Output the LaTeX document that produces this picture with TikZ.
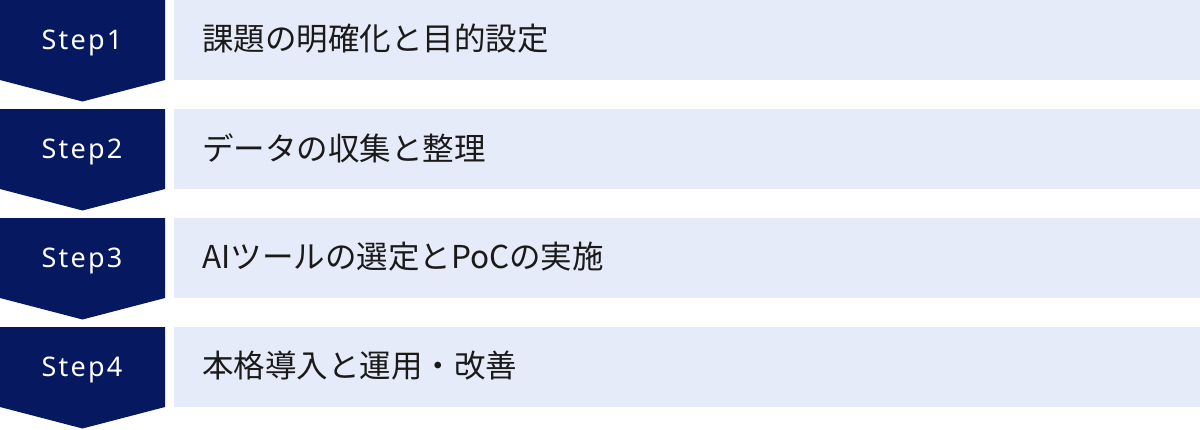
\documentclass[tikz,border=0pt]{standalone}
\usepackage{fontspec}
\setmainfont{Noto Sans}
\newfontfamily\jpfont{Noto Sans CJK JP}
\newfontfamily\stepfont{Noto Sans}
\newcommand{\ls}{\kern2.2pt}
\definecolor{navy}{RGB}{5,24,96}
\definecolor{pale}{RGB}{229,235,248}
\definecolor{ink}{RGB}{26,26,26}
\tikzset{
  chev/.style={fill=navy, draw=none},
  band/.style={fill=pale, draw=none},
  steplabel/.style={text=white, font=\stepfont\fontsize{27}{30}\selectfont, inner sep=0pt},
  tasklabel/.style={text=ink, font=\jpfont\fontsize{31.5}{36}\selectfont, inner sep=0pt, anchor=west}
}
\begin{document}
\begin{tikzpicture}[x=1pt,y=-1pt]
\useasboundingbox (0,0) rectangle (1200,429);
\foreach \i/\s/\t in {0/1/課題の明確化と目的設定, 1/2/データの収集と整理, 2/3/AIツールの選定とPoCの実施, 3/4/本格導入と運用・改善}{
  \pgfmathsetmacro{\top}{109*\i}
  \fill[chev] (0,\top) -- (165,\top) -- (165,\top+80) -- (82.5,\top+101.5) -- (0,\top+80) -- cycle;
  \fill[band] (174,\top) rectangle (1200,\top+80);
  \node[steplabel, anchor=base] (s\s) at (82,\top+49) {S\ls t\ls e\ls p\ls\s};
  \node[tasklabel] (t\s) at (202,\top+39) {\t};
}
\end{tikzpicture}
\end{document}
